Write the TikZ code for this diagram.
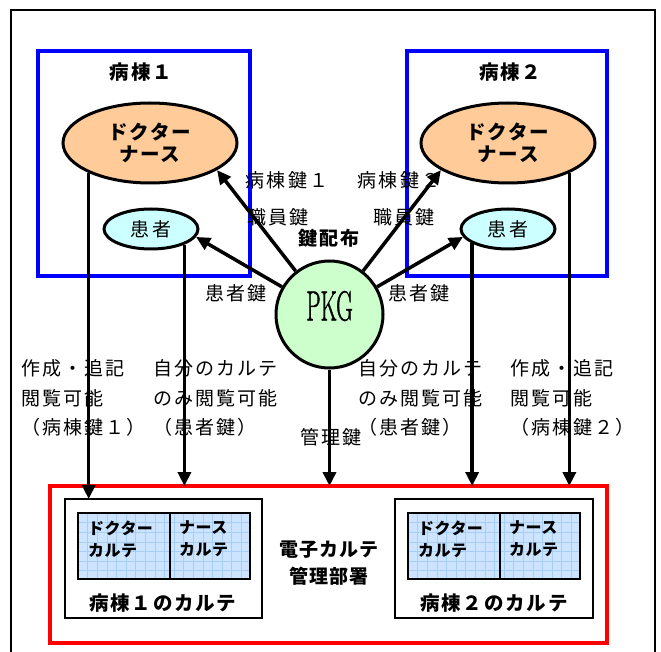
\documentclass[tikz,border=0pt]{standalone}
\usepackage{fontspec}
\usepackage{graphicx}
\setmainfont{Noto Sans CJK JP}
\newfontfamily\lmr[FakeBold=1.6]{Latin Modern Roman}
\usetikzlibrary{arrows.meta,shapes.geometric,calc}
\definecolor{orangefill}{HTML}{FFCC99}
\definecolor{patfill}{HTML}{CCFFFF}
\definecolor{pkgfill}{HTML}{CCFFCC}
\definecolor{wardblue}{HTML}{0000FF}
\definecolor{deptred}{HTML}{FF0000}
\definecolor{gridfill}{HTML}{CCE4FF}
\definecolor{gridline}{HTML}{A6CEF6}
\newcommand{\nrm}{\fontsize{19}{29.5}\selectfont\addfontfeatures{LetterSpace=11}}
\newcommand{\bld}[1]{\fontsize{#1}{#1}\selectfont\bfseries\addfontfeatures{LetterSpace=9}}
\tikzset{
  ward/.style={draw=wardblue, line width=3.5pt},
  staff/.style={ellipse, draw, line width=3pt, fill=orangefill, minimum width=174pt, minimum height=80pt, inner sep=0pt, align=center, font=\bld{19.5}},
  patient/.style={ellipse, draw, line width=3pt, fill=patfill, minimum width=94pt, minimum height=40pt, inner sep=0pt, font=\nrm},
  keylbl/.style={inner sep=0pt, font=\nrm},
  blockl/.style={inner sep=0pt, anchor=west, align=left, font=\nrm},
  arr/.style={line width=3.5pt, -{Triangle[length=14pt,width=13pt]}},
  chartbox/.style={draw, line width=1.5pt, fill=white},
  celltxt/.style={inner sep=0pt, anchor=west, align=left, font={\fontsize{16}{22}\selectfont\bfseries\addfontfeatures{LetterSpace=3}}},
}
\begin{document}
\begin{tikzpicture}[x=1pt,y=-1pt]
\useasboundingbox (0,0) rectangle (661,652);
% outer frame
\draw[line width=1.8pt] (11,656) -- (11,10) -- (655,10) -- (655,656);
% wards
\draw[ward] (38,51) rectangle (250,276);
\draw[ward] (407,51) rectangle (607,276);
\node[inner sep=0pt, font=\bld{19.5}] (t1) at (141,72) {病棟１};
\node[inner sep=0pt, font=\bld{19.5}] (t2) at (510,72) {病棟２};
\node[staff] (dn1) at (150,143) {ドクター\\[3pt]ナース};
\node[staff] (dn2) at (508,143) {ドクター\\[3pt]ナース};
\node[patient] (p1) at (151,229) {患者};
\node[patient] (p2) at (508,229) {患者};
\node[circle, draw, line width=3pt, fill=pkgfill, minimum size=107pt, inner sep=0pt] (pkg) at (329.5,314.5) {};
\node[inner sep=0pt] (pkgt) at (329.5,306) {\lmr\fontsize{42}{42}\selectfont\scalebox{0.54}[1]{PKG}};
% red department box
\draw[draw=deptred, line width=4.5pt] (50,486) rectangle (607,643);
\node[inner sep=0pt, align=center, font={\fontsize{19}{27}\selectfont\bfseries\addfontfeatures{LetterSpace=5}}] (dept) at (329,563) {電子カルテ\\管理部署};
% chart boxes
\draw[chartbox] (65,499) rectangle (262,618);
\draw[chartbox] (395,499) rectangle (593,618);
\coordinate (box1n) at (163,499);
\foreach \x/\d in {78/170, 408/500}{
  \fill[gridfill] (\x,513) rectangle (\x+172,579);
  \begin{scope}
    \clip (\x,513) rectangle (\x+172,579);
    \draw[gridline, line width=0.5pt, xstep=9.6pt, ystep=9.6pt, shift={(\x,513)}] (0,0) grid (172,66);
  \end{scope}
  \draw[line width=1.5pt] (\x,513) rectangle (\x+172,579);
  \draw[line width=1.5pt] (\d,513) -- (\d,579);
}
\node[celltxt] (c1a) at (88,539) {ドクター\\カルテ};
\node[celltxt] (c1b) at (179,539) {ナース\\カルテ};
\node[celltxt] (c2a) at (418,539) {ドクター\\カルテ};
\node[celltxt] (c2b) at (509,539) {ナース\\カルテ};
\node[inner sep=0pt, font=\bld{19.5}] (n1) at (163,603) {病棟１のカルテ};
\node[inner sep=0pt, font=\bld{19.5}] (n2) at (494,603) {病棟２のカルテ};
\coordinate (redn) at (330,486);
% key distribution arrows
\draw[arr] (pkg) -- (dn1.-22);
\draw[arr] (pkg) -- (p1.-10);
\draw[arr] (pkg) -- (dn2.-158);
\draw[arr] (pkg) -- (p2.190);
% vertical access arrows
\draw[arr] (dn1.-154) -- (dn1.-154 |- box1n);
\draw[arr] (p1.-25) -- (p1.-25 |- redn);
\draw[arr] (pkg.south) -- (pkg.south |- redn);
\draw[arr] (p2.-158) -- (p2.-158 |- redn);
\draw[arr] (dn2.-26) -- (dn2.-26 |- redn);
% key labels
\node[keylbl] (k1) at (287,180) {病棟鍵１};
\node[keylbl] (k2) at (278,217) {職員鍵};
\node[inner sep=0pt, font=\bld{19}] (k3) at (329,238) {鍵配布};
\node[keylbl] (k4) at (236,293) {患者鍵};
\node[keylbl] (k5) at (399,180) {病棟鍵２};
\node[keylbl] (k6) at (404,217) {職員鍵};
\node[keylbl] (k7) at (419,293) {患者鍵};
\node[keylbl] (k8) at (331,437) {管理鍵};
% access labels
\node[blockl] (a1) at (21,398) {作成・追記\\閲覧可能\\（病棟鍵１）};
\node[blockl] (a2) at (153,398) {自分のカルテ\\のみ閲覧可能\\（患者鍵）};
\node[blockl] (a3) at (358,398) {自分のカルテ\\のみ閲覧可能\\（患者鍵）};
\node[blockl] (a4) at (510,398) {作成・追記\\閲覧可能\\（病棟鍵２）};
\end{tikzpicture}
\end{document}
